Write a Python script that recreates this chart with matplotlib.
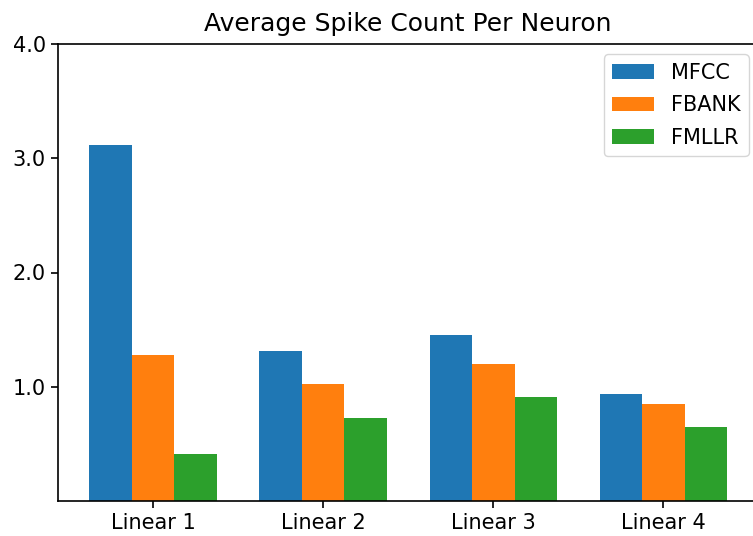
import numpy as np
import matplotlib.pyplot as plt

# data
layers = ['Linear 1', 'Linear 2', 'Linear 3', 'Linear 4']
mfcc = [3.12, 1.31, 1.45, 0.94]
fbank = [1.28, 1.02, 1.20, 0.85]
fmllr = [0.41, 0.73, 0.91, 0.65]

fig = plt.figure(figsize=(7.53, 5.36), dpi=100)
# the original picture is cropped on the right, so the axes run past the edge
ax = fig.add_axes([57.5 / 753, 35 / 536, (759 - 57.5) / 753, (501 - 44) / 536])

x = np.arange(len(layers))
w = 0.25
ax.bar(x - w, mfcc, w, color='#1f77b4', label='MFCC')
ax.bar(x, fbank, w, color='#ff7f0e', label='FBANK')
ax.bar(x + w, fmllr, w, color='#2ca02c', label='FMLLR')

ax.set_ylim(0, 4.0)
ax.set_yticks([1.0, 2.0, 3.0, 4.0])
ax.set_yticklabels(['1.0', '2.0', '3.0', '4.0'])
ax.set_xticks(x)
ax.set_xticklabels(layers)
ax.tick_params(labelsize=15, length=5, width=1.2)
for s in ax.spines.values():
    s.set_linewidth(1.2)
ax.set_title('Average Spike Count Per Neuron', fontsize=18, pad=9)
ax.legend(fontsize=15, loc='upper right', handlelength=2.0, labelspacing=0.6)

fig.savefig('out.png', dpi=100)
